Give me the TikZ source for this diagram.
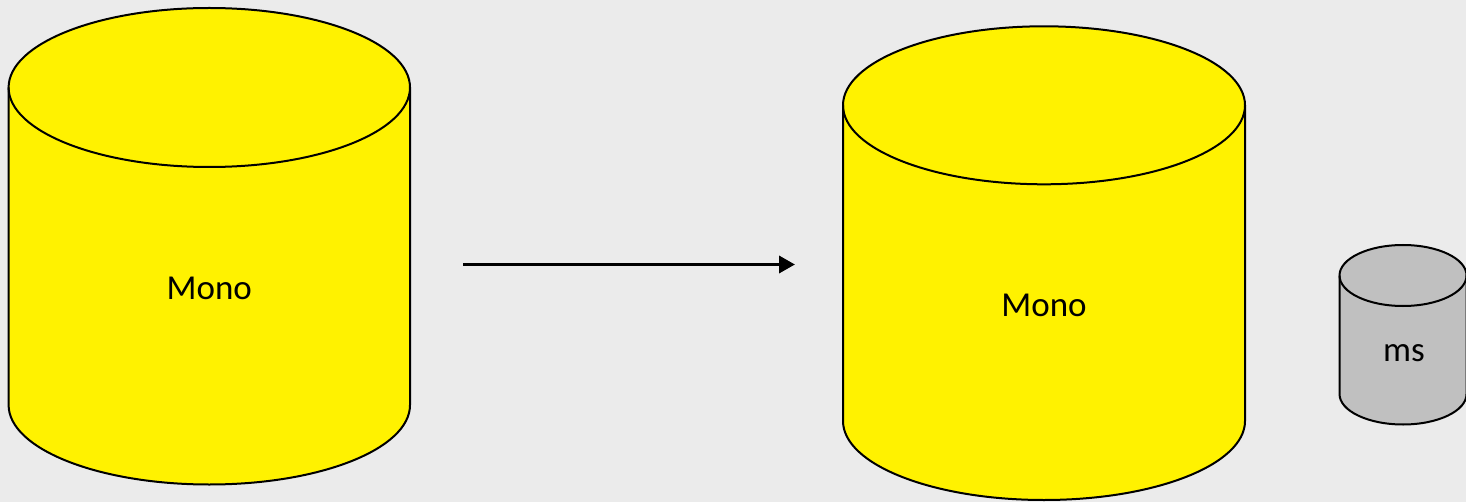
\documentclass[tikz,border=0pt]{standalone}
\usepackage{fontspec}
\setmainfont{Carlito}
\usetikzlibrary{arrows.meta}
\definecolor{bgc}{HTML}{EBEBEB}
\definecolor{cylyellow}{HTML}{FFF200}
\definecolor{cylgray}{HTML}{C0C0C0}
\newcommand\mycyl[6]{%
  \path[fill=#6] (#1-#2,-#3) -- (#1-#2,-#4) arc[start angle=180,end angle=360,x radius=#2bp,y radius=#5bp] -- (#1+#2,-#3) arc[start angle=0,end angle=180,x radius=#2bp,y radius=#5bp] -- cycle;
  \draw[cylline] (#1-#2,-#3) -- (#1-#2,-#4) arc[start angle=180,end angle=360,x radius=#2bp,y radius=#5bp] -- (#1+#2,-#3);
  \draw[cylline] (#1,-#3) ellipse[x radius=#2bp,y radius=#5bp];
}
\tikzset{
  cylline/.style={draw=black,line width=2bp,line join=round},
  lbl/.style={anchor=base,inner sep=0pt,font=\fontsize{35bp}{42bp}\selectfont,text=black},
  arr/.style={draw=black,line width=3.5bp,-{Triangle[length=16bp,width=17bp]}}
}
\begin{document}
\begin{tikzpicture}[x=1bp,y=1bp]
\useasboundingbox (0,0) rectangle (1466,-502);
\clip (0,0) rectangle (1466,-502);
\fill[bgc] (0,0) rectangle (1466,-502);
\mycyl{209.3}{200.7}{87.5}{405}{79.5}{cylyellow}
\mycyl{1044}{201}{105.3}{421}{79}{cylyellow}
\mycyl{1403}{63.5}{275.5}{394}{30.5}{cylgray}
\node[lbl] (monoA) at (209.3,-299) {Mono};
\node[lbl] (monoB) at (1044,-316) {Mono};
\node[lbl] (ms) at (1404,-361.5) {ms};
\coordinate (arrS) at (463,-264.5);
\coordinate (arrE) at (795,-264.5);
\draw[arr] (arrS) -- (arrE);
\end{tikzpicture}
\end{document}
